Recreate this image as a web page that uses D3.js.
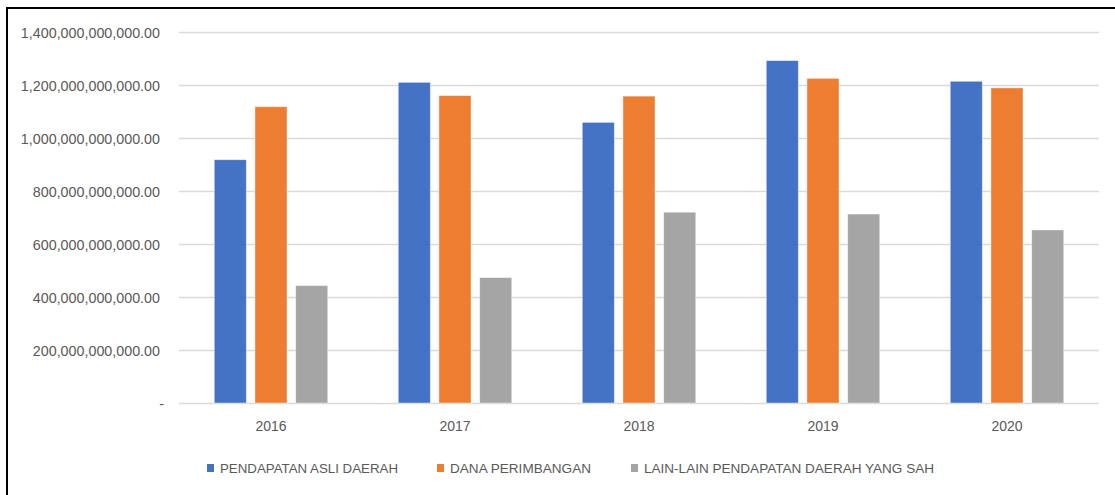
<!DOCTYPE html>
<html>
<head>
<meta charset="utf-8">
<script src="https://cdn.jsdelivr.net/npm/d3@7/dist/d3.min.js"></script>
<style>
  html, body { margin: 0; padding: 0; background: #fff; }
  svg { display: block; font-family: "Liberation Sans", Arial, sans-serif; }
</style>
</head>
<body>
<svg id="chart" width="1115" height="495"></svg>
<script>
// ---- data ----
const years = ["2016", "2017", "2018", "2019", "2020"];
const seriesNames = ["PENDAPATAN ASLI DAERAH", "DANA PERIMBANGAN", "LAIN-LAIN PENDAPATAN DAERAH YANG SAH"];
const pendapatanAsliDaerah = [918e9, 1210e9, 1059e9, 1292e9, 1214e9];
const danaPerimbangan = [1118e9, 1160e9, 1158e9, 1225e9, 1189e9];
const lainLain = [443e9, 473e9, 720e9, 713e9, 653e9];
const yTicks = [0, 200e9, 400e9, 600e9, 800e9, 1000e9, 1200e9, 1400e9];
const colors = ["#4472C4", "#ED7D31", "#A5A5A5"];

const seriesValues = [pendapatanAsliDaerah, danaPerimbangan, lainLain];

const svg = d3.select("#chart");
const W = 1115, H = 495;
const plot = { left: 179, right: 1099, top: 32, bottom: 403 };

// frame lines (left and top)
svg.append("line").attr("x1", 7).attr("x2", 7).attr("y1", 7).attr("y2", H)
  .attr("stroke", "#000").attr("stroke-width", 2);
svg.append("line").attr("x1", 6).attr("x2", W).attr("y1", 8).attr("y2", 8)
  .attr("stroke", "#000").attr("stroke-width", 2);

const y = d3.scaleLinear().domain([0, 1400e9]).range([plot.bottom, plot.top]);
const x0 = d3.scaleBand().domain(years).range([plot.left, plot.right]).paddingInner(0).paddingOuter(0);

const bw = x0.bandwidth() / 5.74;
const gap = bw * 0.27;
const groupW = 3 * bw + 2 * gap;
const x1 = d3.scaleBand().domain(seriesNames).range([0, groupW])
  .paddingInner(gap / (bw + gap)).paddingOuter(0);

// gridlines
const fmt = d3.format(",.2f");
const yAxis = d3.axisLeft(y).tickValues(yTicks)
  .tickSize(-(plot.right - plot.left))
  .tickPadding(19)
  .tickFormat(d => d === 0 ? "-" : fmt(d));

const gy = svg.append("g").attr("transform", `translate(${plot.left},0)`).call(yAxis);
gy.select(".domain").remove();
gy.selectAll(".tick line").attr("stroke", "#D9D9D9").attr("stroke-width", 1.3);
gy.selectAll(".tick text")
  .attr("fill", "#595959")
  .attr("font-size", "14.3px")
  .attr("dy", "0.35em")
  .attr("x", d => d === 0 ? -15 : -19);

// bars
const groups = svg.append("g").selectAll("g")
  .data(years)
  .join("g")
  .attr("transform", d => `translate(${x0(d) + x0.bandwidth() / 2 - groupW / 2},0)`);

groups.selectAll("rect")
  .data((d, i) => seriesNames.map((s, j) => ({ s, j, v: seriesValues[j][i] })))
  .join("rect")
  .attr("x", d => x1(d.s))
  .attr("width", x1.bandwidth())
  .attr("y", d => y(d.v))
  .attr("height", d => y(0) - y(d.v))
  .attr("fill", d => colors[d.j])
  .attr("stroke", "#fff")
  .attr("stroke-opacity", 0.5)
  .attr("stroke-width", 0.8);

// x axis labels
const xAxis = d3.axisBottom(x0).tickSize(0).tickPadding(18);
const gx = svg.append("g").attr("transform", `translate(0,${plot.bottom})`).call(xAxis);
gx.select(".domain").remove();
gx.selectAll(".tick text").attr("fill", "#595959").attr("font-size", "14px");

// legend
const legendItems = [
  { name: seriesNames[0], x: 207, w: 178 },
  { name: seriesNames[1], x: 437, w: 141 },
  { name: seriesNames[2], x: 631, w: 290 }
];
const lg = svg.append("g");
legendItems.forEach((it, i) => {
  lg.append("rect").attr("x", it.x).attr("y", 464).attr("width", 7).attr("height", 8)
    .attr("fill", colors[i]);
  lg.append("text").attr("x", it.x + 13).attr("y", 473)
    .attr("fill", "#595959").attr("font-size", "13px")
    .attr("textLength", it.w).attr("lengthAdjust", "spacingAndGlyphs")
    .text(it.name);
});
</script>
</body>
</html>
